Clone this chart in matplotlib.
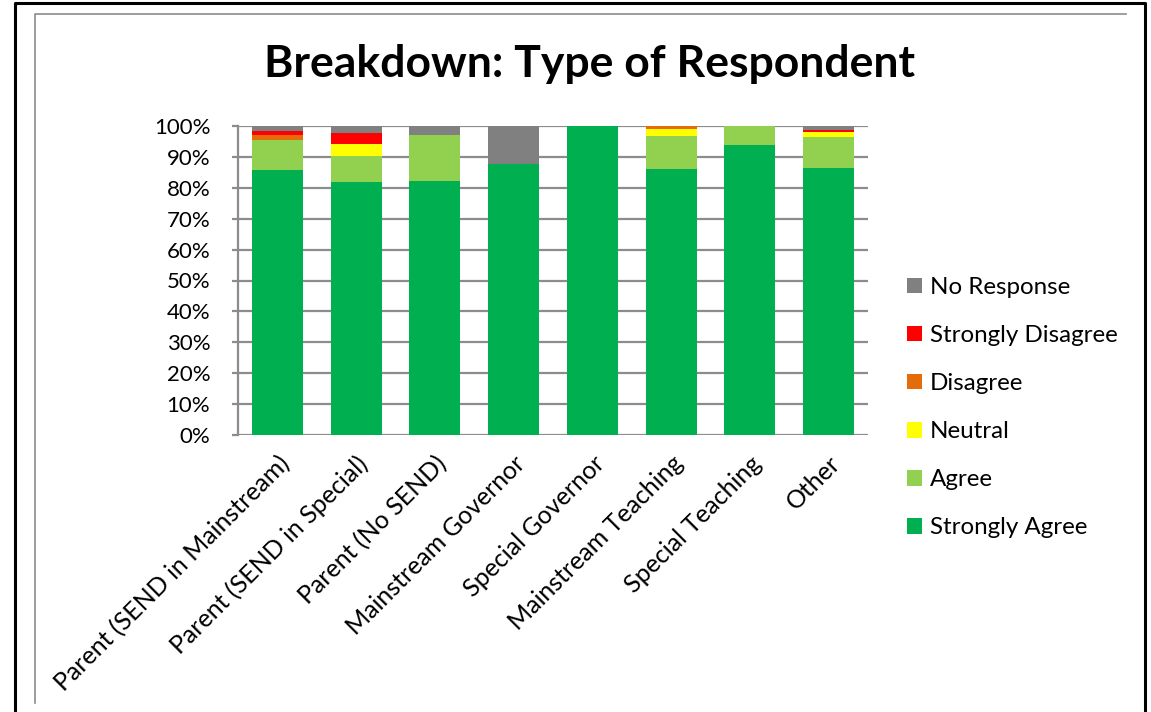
import matplotlib
matplotlib.use('Agg')
import matplotlib.pyplot as plt
from matplotlib.lines import Line2D
from matplotlib.patches import Patch
from matplotlib.ticker import PercentFormatter, MultipleLocator

plt.rcParams['font.family'] = ['Lato', 'DejaVu Sans']

respondents = ["Parent (SEND in Mainstream)", "Parent (SEND in Special)", "Parent (No SEND)",
               "Mainstream Governor", "Special Governor", "Mainstream Teaching",
               "Special Teaching", "Other"]

# shares per respondent type, in percent
strongly_agree = [85.8, 82.0, 82.2, 87.6, 100.0, 86.2, 93.75, 86.3]
agree = [9.6, 8.3, 14.9, 0.0, 0.0, 10.6, 6.25, 10.0]
neutral = [0.0, 3.9, 0.0, 0.0, 0.0, 2.2, 0.0, 1.9]
disagree = [1.6, 0.0, 0.0, 0.0, 0.0, 1.0, 0.0, 0.0]
strongly_disagree = [1.5, 3.4, 0.0, 0.0, 0.0, 0.0, 0.0, 0.6]
no_response = [1.5, 2.4, 2.9, 12.4, 0.0, 0.0, 0.0, 1.2]

series = [
    ("Strongly Agree", strongly_agree, "#00B050"),
    ("Agree", agree, "#92D050"),
    ("Neutral", neutral, "#FFFF00"),
    ("Disagree", disagree, "#E46C0A"),
    ("Strongly Disagree", strongly_disagree, "#FF0000"),
    ("No Response", no_response, "#808080"),
]

fig = plt.figure(figsize=(11.51, 7.12), dpi=100)
ax = fig.add_axes([238 / 1151, 1 - 435 / 712, 630 / 1151, 309 / 712])

x = range(len(respondents))
bottom = [0.0] * len(respondents)
for name, vals, col in series:
    ax.bar(x, vals, width=0.65, bottom=bottom, color=col, label=name, zorder=2)
    bottom = [b + v for b, v in zip(bottom, vals)]

ax.set_xlim(-0.5, len(respondents) - 0.5)
ax.set_ylim(0, 100)
ax.yaxis.set_major_locator(MultipleLocator(10))
ax.yaxis.set_major_formatter(PercentFormatter(decimals=0))
ax.grid(axis='y', color='#8c8c8c', linewidth=1.6, zorder=0)
ax.set_axisbelow(True)
for s in ['top', 'right', 'bottom']:
    ax.spines[s].set_visible(False)
ax.spines['left'].set_color('#8c8c8c')
ax.spines['left'].set_linewidth(1.6)
ax.tick_params(axis='y', length=4, width=1.6, color='#8c8c8c', pad=16, labelsize=16)
ax.tick_params(axis='x', length=0, pad=12, labelsize=18)
ax.set_xticks(list(x))
ax.set_xticklabels(respondents, rotation=45, ha='right', rotation_mode='anchor')

fig.text(590 / 1151, 1 - 64 / 712, "Breakdown: Type of Respondent", ha='center', va='center',
         fontsize=32, fontweight='bold')

handles = [Patch(facecolor=col, label=name) for name, vals, col in reversed(series)]
fig.legend(handles=handles, loc='upper left', bbox_to_anchor=(907 / 1151, 1 - 277 / 712),
           frameon=False, fontsize=17.4, handlelength=0.62, handleheight=0.62,
           handletextpad=0.33, labelspacing=1.12, borderpad=0, borderaxespad=0)

# chart frame lines
fig.add_artist(Line2D([15 / 1151, 15 / 1151, 1145 / 1151, 1145 / 1151],
                      [0, 1 - 3 / 712, 1 - 3 / 712, 0], color='black', linewidth=2.2))
fig.add_artist(Line2D([35 / 1151, 35 / 1151, 1126 / 1151],
                      [1 - 703 / 712, 1 - 13.5 / 712, 1 - 13.5 / 712], color='#8c8c8c', linewidth=1.2))

fig.savefig('out.png', dpi=100)
plt.close(fig)
